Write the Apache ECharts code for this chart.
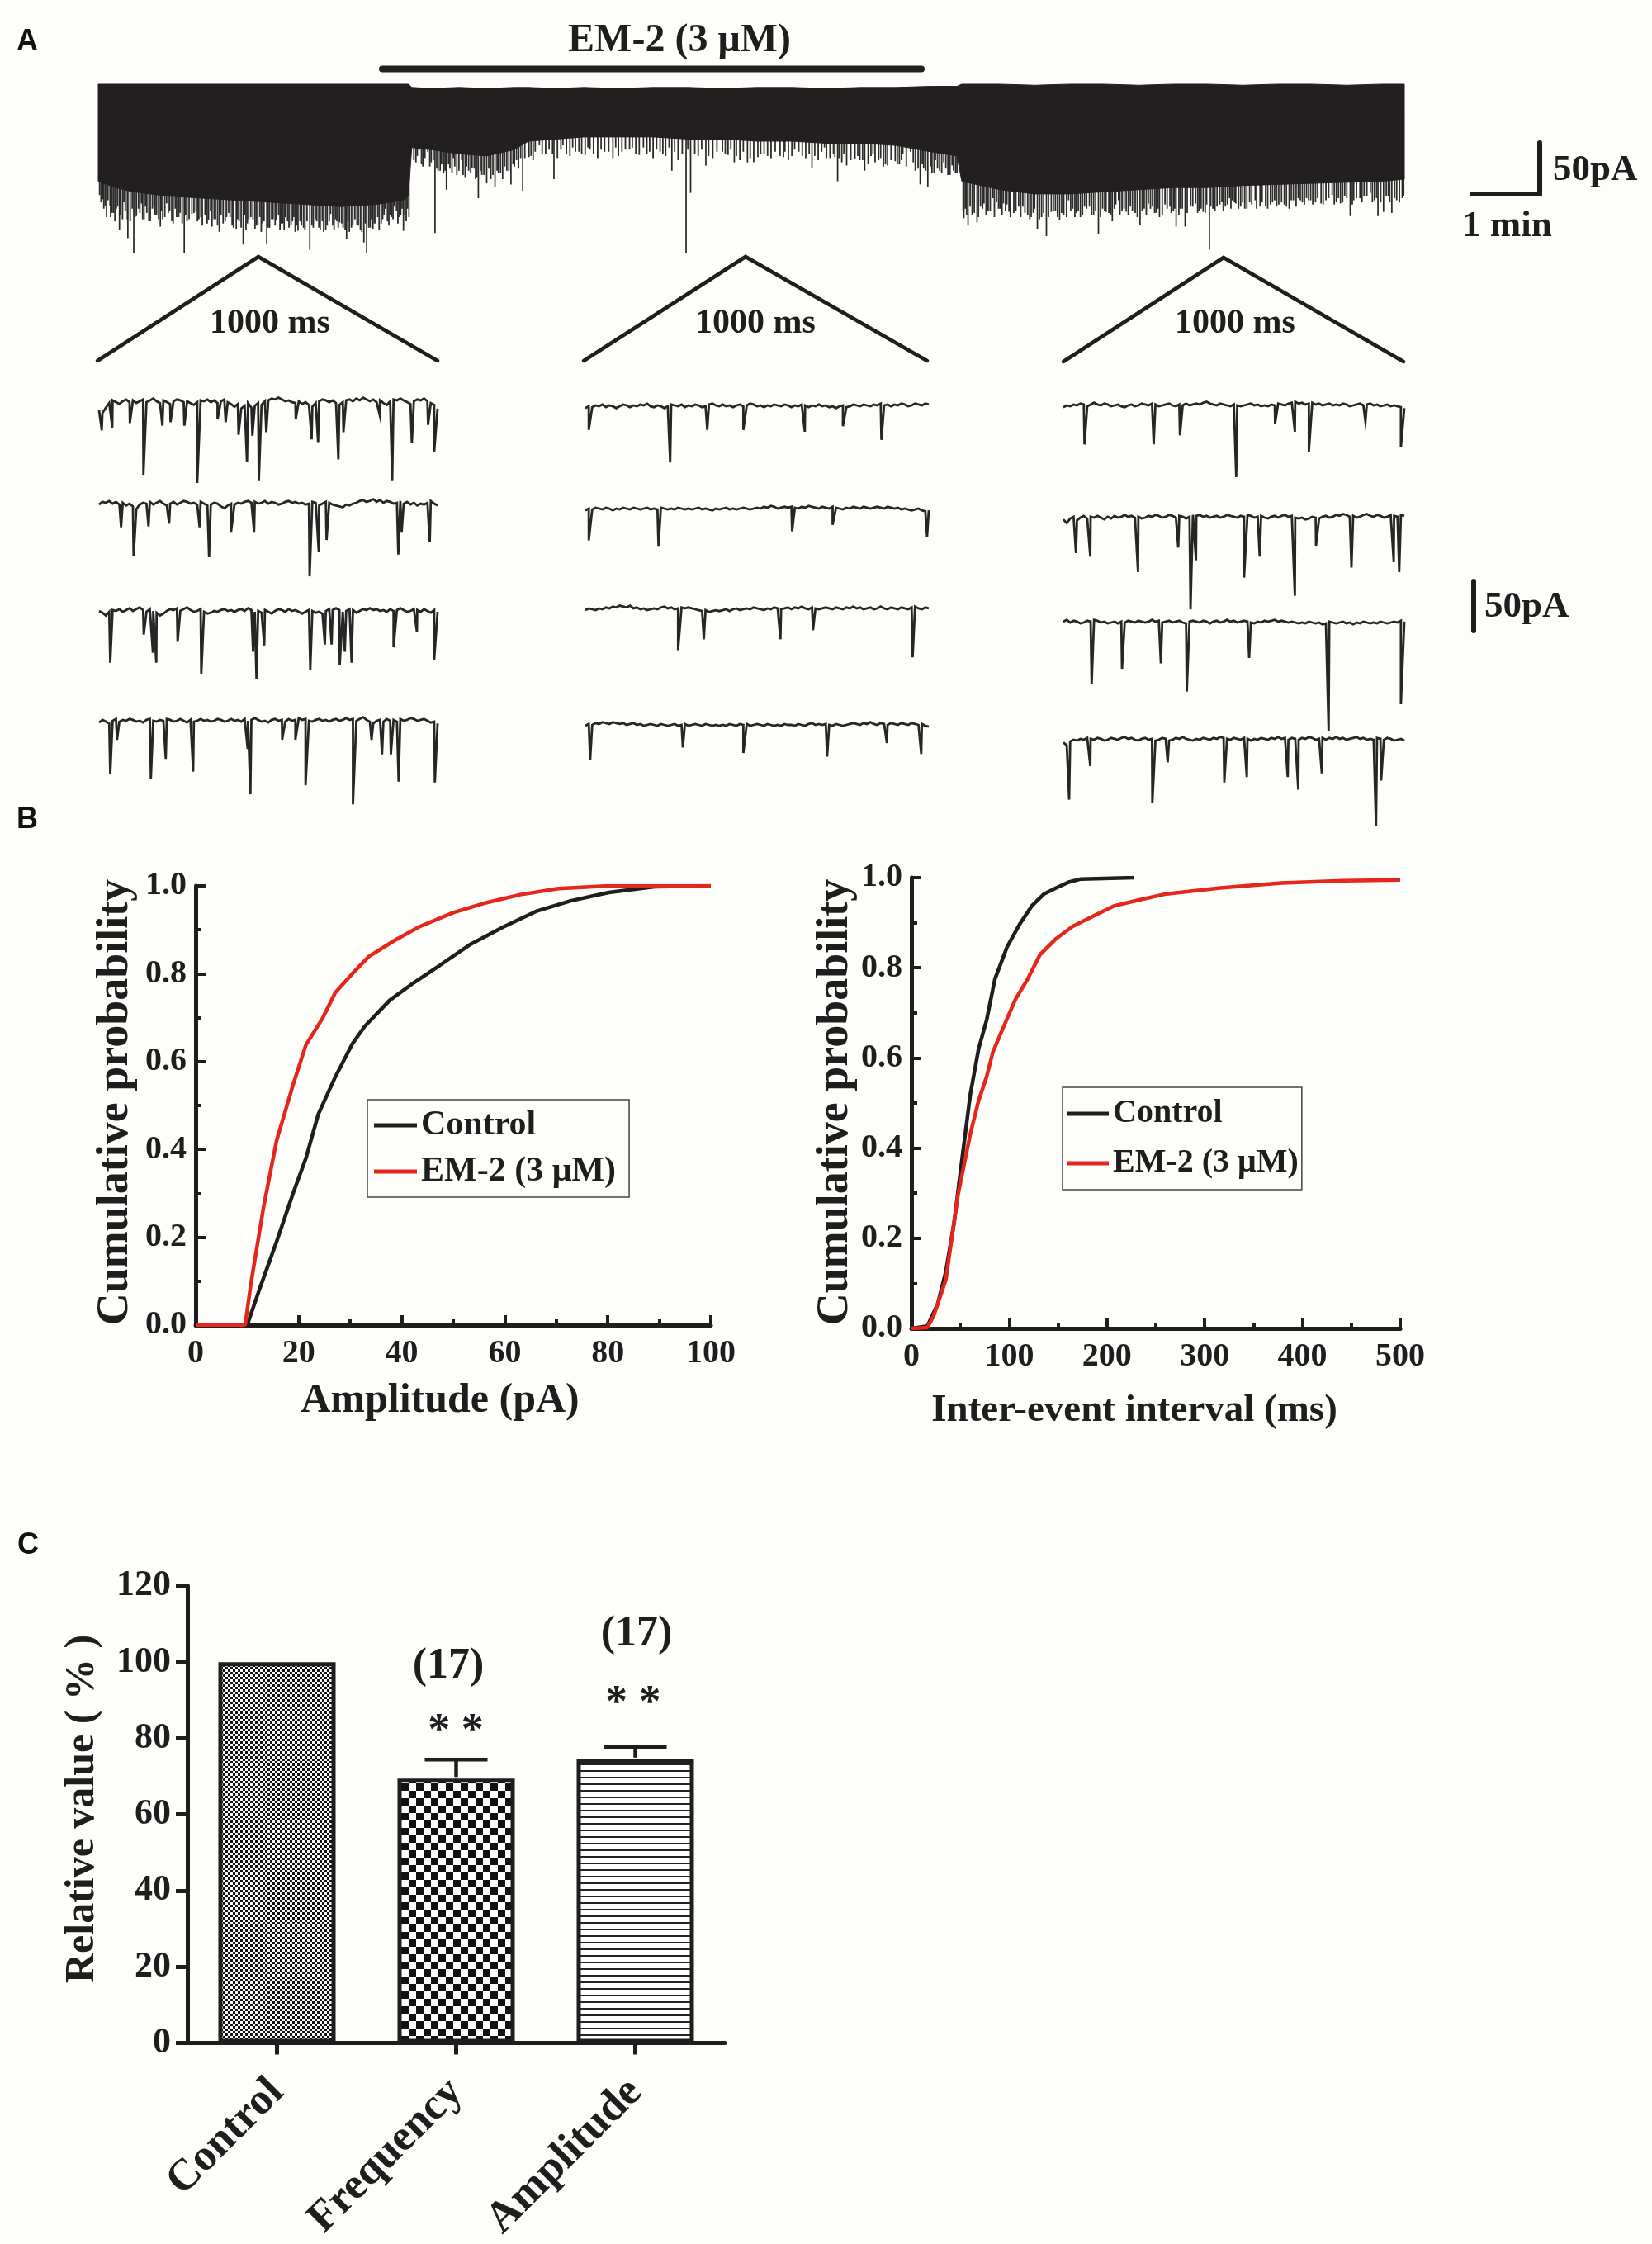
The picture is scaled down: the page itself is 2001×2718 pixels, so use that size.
<!DOCTYPE html>
<html>
<head>
<meta charset="utf-8">
<script src="https://cdn.jsdelivr.net/npm/echarts@6/dist/echarts.min.js"></script>
<style>html,body{margin:0;padding:0;background:#fdfdf9}#c{width:2001px;height:2718px}</style>
</head>
<body>
<div id="c"></div>
<script>
// ---------------- DATA ----------------
// Panel A, long recording (time in min, current in pA)
const topBandT = [0,0.25,0.5,1.0,1.5,2.0,2.5,3.0,3.5,4.0,4.4,4.47,
  4.52,4.8,5.2,5.6,6.0,6.2,6.6,7.0,7.5,8.0,8.5,9.0,9.5,10.0,10.5,11.0,11.5,12.0,12.38,
  12.45,13.0,13.5,14.0,14.5,15.0,15.5,16.0,16.5,17.0,17.5,18.0,18.5,18.83];
const topBandUpper = [0,0,0,0,0,0,0,0,0,0,0,0,
  -3,-4,-3,-4,-3,-3,-4,-3,-4,-3,-3,-4,-3,-3,-4,-3,-3,-2,-2,
  0,0,-1,0,0,-1,0,0,-1,0,0,-1,0,0];
const topBandLower = [-92,-98,-102,-106,-108,-110,-112,-114,-116,-114,-110,-106,
  -60,-62,-66,-68,-62,-54,-52,-50,-50,-50,-52,-52,-54,-54,-56,-56,-58,-64,-68,
  -92,-100,-104,-104,-102,-100,-98,-98,-96,-95,-94,-93,-92,-90];
// large events of the long recording: [time min, amplitude pA]
const topSpikes = [
 [0.063,109],[0.178,126],[0.306,138],[0.427,146],[0.512,160],[0.622,113],[0.804,116],[0.895,135],[0.986,113],[1.24,160],
 [1.35,123],[1.41,121],[1.59,129],[1.745,140],[1.90,126],[1.99,137],[2.09,152],[2.20,126],[2.26,137],[2.43,152],
 [2.57,129],[2.70,126],[2.88,139],[3.05,157],[3.20,138],[3.35,123],[3.48,131],[3.58,147],[3.73,133],[3.83,150],
 [3.87,160],[3.96,137],[4.14,118],[4.27,116],[4.40,139],[4.48,126],
 [4.63,62],[4.75,64],[4.855,141],[4.93,82],[5.02,100],[5.12,70],[5.24,72],[5.39,79],[5.48,108],[5.60,94],
 [5.72,97],[5.83,90],[5.95,95],[6.12,101],[6.21,69],[6.36,58],[6.57,90],[6.70,58],[6.97,66],[7.09,62],
 [7.42,70],[7.70,60],[7.91,66],[8.27,82],[8.475,160],[8.54,103],[8.76,77],[9.00,64],[9.17,74],[9.36,74],
 [9.51,69],[9.60,66],[9.88,69],[10.04,62],[10.29,79],[10.47,60],[10.62,69],[10.66,92],[10.79,77],[10.91,71],
 [11.05,82],[11.17,66],[11.38,77],[11.49,73],[11.60,66],[11.71,64],[11.85,95],[11.96,97],[12.07,72],[12.19,74],[12.31,77],
 [12.48,127],[12.54,134],[12.67,131],[12.77,113],[12.90,108],[13.05,113],[13.13,121],[13.27,116],[13.45,126],[13.54,137],
 [13.67,144],[13.74,121],[13.86,129],[13.99,110],[14.16,126],[14.29,116],[14.42,142],[14.53,121],[14.62,130],[14.71,110],
 [14.82,121],[15.02,133],[15.14,113],[15.30,126],[15.45,116],[15.54,135],[15.67,135],[15.82,113],[15.93,121],[16.02,157],
 [16.13,116],[16.31,108],[16.40,113],[16.56,118],[16.68,110],[16.83,116],[17.02,114],[17.17,118],[17.30,108],[17.48,110],
 [17.63,113],[17.79,105],[17.91,113],[18.05,125],[18.19,108],[18.34,103],[18.45,125],[18.53,121],[18.65,122],[18.80,108]
];
// dense small events at the lower edge of the band: [time min, amplitude pA]
const topFringe = [
 [0.02,105],[0.10,115],[0.14,110],[0.22,122],[0.26,118],[0.35,128],[0.39,120],[0.46,130],[0.55,125],[0.58,118],
 [0.66,128],[0.70,122],[0.75,130],[0.84,124],[0.93,128],[1.03,120],[1.08,132],[1.13,126],[1.18,122],[1.28,130],
 [1.45,128],[1.50,134],[1.54,124],[1.64,135],[1.69,128],[1.80,132],[1.85,126],[1.95,136],[2.03,130],[2.13,138],
 [2.17,128],[2.30,134],[2.35,140],[2.39,130],[2.47,136],[2.52,128],[2.62,138],[2.66,132],[2.75,136],[2.80,130],
 [2.84,140],[2.93,134],[2.98,138],[3.10,136],[3.15,130],[3.25,140],[3.30,134],[3.40,138],[3.44,130],[3.53,136],
 [3.62,140],[3.67,134],[3.78,138],[3.92,136],[4.00,132],[4.05,138],[4.10,128],[4.19,134],[4.23,126],[4.32,132],
 [4.36,124],[4.44,130],
 [4.58,74],[4.68,78],[4.80,74],[4.90,82],[4.98,84],[5.07,80],[5.17,86],[5.29,88],[5.34,82],[5.44,90],
 [5.53,86],[5.66,90],[5.77,84],[5.89,82],[6.00,78],[6.06,80],[6.27,72],[6.45,66],[6.62,70],[6.80,68],
 [6.88,64],[7.02,67],[7.20,70],[7.30,64],[7.50,68],[7.60,62],[7.80,67],[8.00,70],[8.10,64],[8.18,68],
 [8.36,72],[8.65,68],[8.86,70],[9.08,67],[9.25,72],[9.45,74],[9.70,70],[9.95,72],[10.15,68],[10.38,72],
 [10.55,70],[10.72,74],[10.98,72],[11.10,76],[11.25,72],[11.32,78],[11.55,76],[11.78,82],[11.90,80],[12.02,84],
 [12.13,82],[12.25,86],[12.36,84],
 [12.50,118],[12.60,124],[12.72,116],[12.83,120],[12.95,112],[13.00,118],[13.10,114],[13.20,122],[13.33,116],[13.40,124],
 [13.50,118],[13.60,126],[13.80,120],[13.92,124],[14.05,118],[14.10,122],[14.22,116],[14.35,124],[14.48,118],[14.57,122],
 [14.67,114],[14.76,120],[14.88,116],[14.95,122],[15.08,118],[15.20,116],[15.25,122],[15.38,114],[15.50,120],[15.60,118],
 [15.75,116],[15.87,120],[15.98,114],[16.07,118],[16.20,112],[16.25,116],[16.35,110],[16.47,116],[16.60,112],[16.75,116],
 [16.90,114],[16.96,110],[17.10,114],[17.23,110],[17.36,112],[17.42,108],[17.55,112],[17.70,110],[17.85,112],[17.97,106],
 [18.10,110],[18.25,106],[18.40,110],[18.60,106],[18.72,110]
];
const topFringe2 = [
 [0.04,112],[0.08,118],[0.12,126],[0.17,115],[0.20,122],[0.24,130],[0.28,116],[0.32,124],[0.37,112],[0.42,128],
 [0.49,118],[0.53,126],[0.60,122],[0.64,128],[0.68,116],[0.73,130],[0.78,118],[0.82,124],[0.87,128],[0.91,120],
 [0.96,126],[1.01,122],[1.06,130],[1.11,118],[1.16,126],[1.21,132],[1.26,124],[1.31,128],[1.38,122],[1.43,130],
 [1.48,126],[1.57,132],[1.62,120],[1.67,128],[1.72,134],[1.77,124],[1.83,130],[1.88,122],[1.93,134],[2.01,128],
 [2.06,136],[2.11,124],[2.15,132],[2.23,128],[2.28,134],[2.33,126],[2.37,132],[2.45,136],[2.50,128],[2.55,134],
 [2.60,124],[2.64,132],[2.68,138],[2.73,130],[2.78,134],[2.82,126],[2.86,134],[2.91,130],[2.96,136],[3.01,130],
 [3.08,134],[3.13,128],[3.18,136],[3.23,130],[3.28,138],[3.33,130],[3.38,134],[3.42,128],[3.46,136],[3.51,132],
 [3.56,138],[3.60,130],[3.65,136],[3.70,128],[3.75,134],[3.80,140],[3.85,132],[3.90,136],[3.94,128],[3.98,132],
 [4.03,126],[4.08,132],[4.12,124],[4.17,130],[4.21,124],[4.25,128],[4.30,120],[4.34,126],[4.38,118],[4.42,124],[4.46,118],
 [4.55,72],[4.60,68],[4.66,76],[4.71,70],[4.78,78],[4.83,72],[4.88,80],[4.95,76],[5.00,82],[5.05,76],
 [5.10,84],[5.14,78],[5.20,82],[5.26,86],[5.31,78],[5.37,84],[5.42,80],[5.46,88],[5.51,82],[5.56,86],
 [5.63,80],[5.69,86],[5.75,82],[5.80,84],[5.86,78],[5.92,82],[5.98,76],[6.03,72],[6.09,70],[6.15,70],
 [6.24,68],[6.30,64],[6.40,66],[6.50,62],[6.55,66],[6.67,62],[6.75,66],[6.84,60],[6.93,64],[7.06,60],
 [7.14,66],[7.25,62],[7.36,64],[7.46,60],[7.55,64],[7.66,62],[7.75,66],[7.86,60],[7.95,64],[8.05,62],
 [8.14,66],[8.23,60],[8.31,64],[8.42,66],[8.50,62],[8.60,66],[8.70,62],[8.80,68],[8.92,64],[9.04,66],
 [9.12,62],[9.20,68],[9.30,64],[9.40,70],[9.55,66],[9.65,68],[9.76,64],[9.83,68],[9.90,64],[10.00,68],
 [10.10,64],[10.20,70],[10.25,66],[10.33,68],[10.43,64],[10.50,70],[10.60,66],[10.68,70],[10.75,66],[10.85,72],
 [10.95,68],[11.02,72],[11.14,68],[11.20,74],[11.28,70],[11.35,76],[11.43,72],[11.52,76],[11.58,72],[11.65,78],
 [11.75,74],[11.82,80],[11.88,76],[11.93,82],[12.00,78],[12.05,84],[12.10,80],[12.16,84],[12.22,80],[12.28,86],
 [12.33,82],[12.38,84],
 [12.47,120],[12.52,124],[12.57,116],[12.63,122],[12.69,126],[12.75,118],[12.80,124],[12.86,120],[12.92,126],[12.98,118],
 [13.03,124],[13.08,120],[13.15,126],[13.23,120],[13.30,126],[13.36,122],[13.43,128],[13.48,122],[13.57,128],[13.63,122],
 [13.70,126],[13.77,120],[13.83,126],[13.89,122],[13.96,126],[14.02,120],[14.08,126],[14.13,120],[14.19,124],[14.25,118],
 [14.32,124],[14.38,120],[14.45,126],[14.51,120],[14.60,124],[14.65,118],[14.73,124],[14.79,118],[14.85,124],[14.91,120],
 [14.98,126],[15.05,120],[15.11,124],[15.17,118],[15.23,122],[15.28,118],[15.34,124],[15.41,118],[15.47,122],[15.52,118],
 [15.58,124],[15.63,118],[15.70,122],[15.78,116],[15.85,122],[15.90,118],[15.96,122],[16.04,116],[16.10,120],[16.17,114],
 [16.22,120],[16.28,114],[16.33,118],[16.38,112],[16.44,118],[16.50,112],[16.53,118],[16.63,114],[16.70,118],[16.78,112],
 [16.86,118],[16.93,112],[16.99,116],[17.06,112],[17.13,116],[17.20,110],[17.27,116],[17.33,110],[17.39,114],[17.45,110],
 [17.51,114],[17.58,108],[17.66,114],[17.74,108],[17.82,114],[17.88,108],[17.94,112],[18.00,108],[18.08,114],[18.14,108],
 [18.22,112],[18.29,106],[18.37,112],[18.43,108],[18.49,112],[18.57,106],[18.62,112],[18.69,108],[18.76,112],[18.82,106]
];

// Panel A, 1000 ms sweeps: baseline noise sampled every 10 ms (pA) and events [time ms, amplitude pA]
const ctrlNoise1 = [-6,-9,-3,2,5,3,1,4,6,3, 5,2,4,6,3,5,7,4,2,5, 3,1,4,6,5,3,4,2,0,3, 5,4,6,3,5,2,4,6,3,1,
  -2,1,-4,-1,2,-3,-1,2,0,4, 5,7,6,8,6,4,5,3,2,4, 1,3,0,-2,2,4,6,5,3,5, 2,0,3,5,6,4,7,5,8,6,
  4,6,3,5,2,0,4,6,5,7, 5,3,1,4,6,5,7,4,2,0, -4];
const ctrlEvents1 = [[8,28],[39,25],[91,20],[131,77],[187,23],[211,19],[252,23],[290,86],[350,16],[374,19],[412,33],[437,63],
  [453,34],[472,83],[494,30],[581,16],[628,38],[647,41],[707,60],[722,30],[829,11],[866,83],[924,42],[972,22],[990,52]];
const ctrlNoise2 = [2,5,4,6,3,5,2,4,1,3, 0,-3,2,4,3,5,2,4,6,3, 1,3,5,2,4,6,5,3,4,2, 5,3,1,2,4,3,0,-2,1,3,
  2,4,3,5,6,4,5,3,4,6, 3,5,4,2,3,5,6,4,5,3, 4,2,3,5,4,1,3,5,4,2, 1,0,-1,2,1,3,4,6,7,5,
  6,8,5,7,4,6,5,3,4,6, 3,5,2,4,1,3,2,4,6,3, 1];
const ctrlEvents2 = [[65,23],[102,55],[146,22],[207,19],[297,23],[325,56],[390,28],[458,28],[622,77],[649,50],[672,37],
  [884,53],[894,28],[977,39]];
const ctrlNoise3 = [4,2,-1,3,5,4,6,3,5,7, 4,6,8,5,3,6,4,2,-1,1, 4,6,5,7,4,6,8,5,3,4, 6,3,1,2,4,3,5,6,4,5,
  3,5,6,4,7,5,3,4,2,5, 3,1,4,6,5,3,6,4,5,3, 1,3,5,4,2,3,1,4,6,5, 7,5,3,4,6,5,2,4,6,5,
  7,5,6,4,5,3,6,4,5,7, 5,3,4,6,5,3,6,4,2,5, 3];
const ctrlEvents3 = [[33,53],[132,22],[159,42],[169,53],[232,30],[302,65],[455,41],[465,71],[488,34],[624,61],[667,33],
  [687,33],[711,55],[726,41],[746,53],[870,36],[939,19],[990,50]];
const ctrlNoise4 = [2,5,3,1,4,6,3,5,4,6, 5,3,4,2,5,6,4,3,5,4, 6,5,3,4,6,4,2,5,3,4, 6,4,5,3,4,6,5,3,4,6,
  4,5,3,6,4,5,7,5,3,4, 2,5,6,4,5,3,6,4,5,7, 5,6,4,3,5,6,4,5,3,5, 6,4,5,7,5,6,4,6,8,5,
  3,1,4,5,3,6,4,5,3,6, 4,5,7,6,4,5,6,4,2,3, 1];
const ctrlEvents4 = [[33,55],[53,17],[153,60],[197,38],[278,52],[439,27],[447,77],[541,17],[580,17],[610,67],[750,88],
  [805,17],[836,33],[862,33],[885,63],[992,64]];

const em2Noise1 = [1,3,2,4,3,5,2,4,3,1, 3,5,4,2,4,3,5,4,6,3, 2,4,3,1,3,5,4,3,5,2, 4,3,5,4,2,3,5,6,4,3,
  5,3,4,2,4,5,3,4,6,5, 3,4,2,4,3,5,4,3,5,4, 2,4,3,5,4,2,4,3,5,3, 4,2,3,1,3,4,2,3,5,4,
  3,5,4,3,5,4,6,4,5,3, 5,4,6,5,3,4,6,5,4,6, 5];
const em2Events1 = [[10,23],[247,59],[355,23],[460,23],[639,25],[750,19],[862,34]];
const em2Noise2 = [2,4,3,5,4,3,5,4,2,4, 3,5,4,3,5,4,3,4,5,3, 4,3,5,4,3,4,3,5,4,3, 4,3,4,5,3,4,3,2,4,3,
  4,5,3,4,3,4,5,4,3,4, 5,4,6,5,7,6,4,5,6,5, 6,5,4,6,5,7,6,5,4,6, 5,4,6,5,4,3,5,4,6,5,
  4,6,5,4,5,6,5,4,6,5, 4,5,3,4,3,2,3,4,2,1, 2];
const em2Events2 = [[10,31],[213,37],[602,21],[720,14],[995,27]];
const em2Noise3 = [3,5,4,3,5,4,6,5,7,6, 8,7,6,8,5,6,4,5,3,4, 5,4,6,7,5,6,4,5,6,5, 6,5,4,3,2,3,1,2,3,2,
  3,4,2,4,5,3,4,5,4,6, 5,4,3,5,4,6,5,4,5,6, 4,6,5,7,5,4,6,5,4,5, 6,5,4,6,5,4,6,5,7,5,
  6,4,5,6,4,5,7,5,4,6, 5,4,6,5,4,6,7,5,4,6, 5];
const em2Events3 = [[270,41],[345,29],[568,29],[663,19],[953,49]];
const em2Noise4 = [3,5,4,6,5,7,6,5,7,6, 5,6,4,5,6,4,5,3,4,5, 4,3,5,4,3,4,5,3,4,5, 3,4,5,4,3,5,4,3,4,3,
  4,3,5,4,3,5,4,5,3,4, 5,4,3,5,4,3,4,3,5,4, 4,3,5,4,3,5,6,4,5,4, 5,4,3,5,4,3,4,5,6,5,
  4,6,5,7,5,4,6,5,4,6, 5,4,6,5,4,6,5,4,5,3, 2];
const em2Events4 = [[14,35],[284,21],[460,27],[704,31],[878,16],[978,28]];

const washNoise1 = [2,4,3,5,4,6,5,3,5,7, 5,4,6,5,3,4,5,3,2,4, 5,3,4,6,5,4,6,5,3,4, 5,6,4,3,5,4,6,4,5,6,
  5,7,8,6,5,4,6,5,4,3, 5,4,3,4,5,6,4,5,3,4, 3,5,4,6,5,4,6,7,8,6, 7,5,6,7,5,6,4,5,6,4,
  5,4,6,5,3,4,5,6,4,5, 6,4,5,3,4,5,3,4,3,2, 1];
const washEvents1 = [[62,39],[265,39],[342,29],[507,75],[621,16],[679,25],[720,47],[886,14],[990,42]];
const washNoise2 = [2,-2,3,5,1,4,6,3,5,4, 6,4,2,5,3,6,4,5,7,5, 6,4,5,3,4,6,5,7,6,4, 5,7,6,4,6,5,3,5,7,6,
  7,5,6,4,5,6,4,5,7,6, 5,4,6,5,7,6,4,5,6,4, 3,5,6,4,6,7,5,6,4,3, 4,2,3,5,4,3,5,6,4,5,
  7,6,8,7,5,6,4,5,7,8, 6,5,7,6,4,5,7,6,5,7, 6];
const washEvents2 = [[37,35],[79,39],[219,56],[337,29],[373,97],[389,43],[530,62],[576,39],[679,82],[741,27],[845,51],
  [969,45],[985,56]];
const washNoise3 = [5,7,4,6,5,3,4,6,5,7, 6,4,5,3,4,5,3,5,4,6, 5,4,6,5,4,5,7,5,6,4, 5,6,4,5,6,4,3,5,6,5,
  4,6,5,3,5,6,4,5,7,5, 6,4,5,6,5,4,3,5,4,6, 5,6,7,5,6,5,4,5,4,3, 4,3,5,4,3,4,2,3,5,4,
  3,4,5,3,4,2,4,3,5,4, 3,4,3,5,4,3,4,5,4,6, 5];
const washEvents3 = [[83,64],[172,47],[286,41],[362,72],[545,35],[778,115],[990,86]];
const washNoise4 = [1,-2,2,4,3,5,4,6,5,4, 6,5,3,4,6,5,4,6,7,5, 6,4,3,5,6,4,5,3,4,6, 5,3,4,6,5,7,5,4,3,5,
  4,6,5,4,6,5,7,6,5,4, 6,5,4,6,5,3,5,4,6,5, 4,6,5,7,5,6,4,6,5,4, 6,5,7,6,4,5,6,4,6,5,
  7,5,6,4,5,6,7,5,6,4, 5,4,6,5,4,6,5,3,4,5, 3];
const washEvents4 = [[17,62],[79,25],[261,66],[306,21],[472,43],[538,37],[658,37],[689,51],[758,33],[917,91],[932,41]];

// Panel B, cumulative distributions
const ampCtrlX = [0,10,12.4,15.7,18.9,21.4,23.8,27.1,30.4,32.8,37.7,41.8,47.5,53.2,59.8,66.3,72.8,80.2,89.1,100];
const ampCtrlY = [0,0,0.082,0.19,0.30,0.38,0.48,0.565,0.64,0.68,0.74,0.775,0.82,0.866,0.907,0.943,0.966,0.985,0.998,1.0];
const ampEmX = [0,9.6,10.8,13.2,15.7,18.9,21.4,24.7,27.1,30.4,33.6,38.5,43.4,50,56.5,63,70.4,80.2,100];
const ampEmY = [0,0,0.10,0.27,0.42,0.547,0.638,0.70,0.757,0.80,0.839,0.875,0.907,0.939,0.962,0.98,0.994,1.0,1.0];
const ieiCtrlX = [0,16.3,26.8,35.2,43.6,51.9,60.3,68.7,77,85.4,98,110.5,123,135.7,148,160.8,173.4,227.8];
const ieiCtrlY = [0,0.005,0.054,0.126,0.234,0.378,0.52,0.62,0.685,0.775,0.847,0.896,0.937,0.964,0.977,0.99,0.997,1.0];
const ieiEmX = [0,16.3,22.6,35.2,47.7,60.3,68.7,77,83.3,93.8,106.4,118.9,131.5,148.2,165,190,206.9,232,261,315.7,378.6,441.4,500];
const ieiEmY = [0,0.002,0.027,0.108,0.297,0.432,0.505,0.559,0.613,0.667,0.73,0.775,0.829,0.865,0.892,0.919,0.937,0.95,0.964,0.977,0.988,0.993,0.995];
const seriesNames = ['Control', 'EM-2 (3 μM)'];

// Panel C
const relCategories = ['Control', 'Frequency', 'Amplitude'];
const relValues = [100, 69.4, 74.5];
const relErr = [0, 5.0, 3.2];
const relYTicks = [0, 20, 40, 60, 80, 100, 120];

// ---------------- STYLE / LAYOUT ----------------
const SERIF = '"Liberation Serif", "Times New Roman", serif';
const SANS = '"Liberation Sans", Arial, sans-serif';
const INK = '#1f1d1e';
const RED = '#e4261c';
const BG = '#fdfdf9';

function pattern(kind) {
  const c = document.createElement('canvas');
  const g = c.getContext('2d');
  if (kind === 'fine') {
    c.width = 6; c.height = 6;
    g.fillStyle = '#ffffff'; g.fillRect(0, 0, 6, 6);
    g.fillStyle = '#111'; g.fillRect(0, 0, 3, 3); g.fillRect(3, 3, 3, 3);
  } else if (kind === 'check') {
    c.width = 18; c.height = 18;
    g.fillStyle = '#ffffff'; g.fillRect(0, 0, 18, 18);
    g.fillStyle = '#111'; g.fillRect(0, 0, 9, 9); g.fillRect(9, 9, 9, 9);
  } else {
    c.width = 8; c.height = 8;
    g.fillStyle = '#ffffff'; g.fillRect(0, 0, 8, 8);
    g.fillStyle = '#222'; g.fillRect(0, 0, 8, 2);
  }
  return { image: c, repeat: 'repeat' };
}

const grids = [], xAxes = [], yAxes = [], series = [];
function addGrid(g, xa, ya) {
  grids.push(g);
  const gi = grids.length - 1;
  xa.gridIndex = gi; ya.gridIndex = gi;
  xAxes.push(xa); yAxes.push(ya);
  return gi;
}

// --- top recording ---
const gTop = addGrid({ left: 119, top: 102, width: 1582, height: 207 },
  { type: 'value', min: 0, max: 18.83, show: false },
  { type: 'value', min: -162, max: 0, show: false });
function spikeSeries(list, color, width) {
  return {
    type: 'custom', xAxisIndex: gTop, yAxisIndex: gTop, silent: true, z: 2,
    data: list,
    renderItem: function (params, api) {
      const t = api.value(0);
      const p1 = api.coord([t, -30]);
      const p2 = api.coord([t, -api.value(1)]);
      return { type: 'line', shape: { x1: p1[0], y1: p1[1], x2: p2[0], y2: p2[1] }, style: { stroke: color, lineWidth: width } };
    }
  };
}
series.push(spikeSeries(topFringe2, '#2e2e2e', 1.8));
series.push(spikeSeries(topFringe, '#2a2a2a', 1.8));
series.push(spikeSeries(topSpikes, '#262626', 1.7));
series.push({
  type: 'custom', xAxisIndex: gTop, yAxisIndex: gTop, silent: true, z: 3,
  data: [[0, 0]],
  renderItem: function (params, api) {
    const pts = [];
    for (let i = 0; i < topBandT.length; i++) pts.push(api.coord([topBandT[i], topBandUpper[i]]));
    for (let i = topBandT.length - 1; i >= 0; i--) pts.push(api.coord([topBandT[i], topBandLower[i]]));
    return { type: 'polygon', shape: { points: pts }, style: { fill: '#231f20', stroke: '#231f20', lineWidth: 1 } };
  }
});

// --- 1000 ms sweeps ---
const sweepCols = [
  { left: 120, width: 410, bases: [486, 609, 740, 873], noise: [ctrlNoise1, ctrlNoise2, ctrlNoise3, ctrlNoise4], events: [ctrlEvents1, ctrlEvents2, ctrlEvents3, ctrlEvents4] },
  { left: 709, width: 416, bases: [491, 616, 738, 878], noise: [em2Noise1, em2Noise2, em2Noise3, em2Noise4], events: [em2Events1, em2Events2, em2Events3, em2Events4] },
  { left: 1288, width: 413, bases: [491, 627, 754, 896], noise: [washNoise1, washNoise2, washNoise3, washNoise4], events: [washEvents1, washEvents2, washEvents3, washEvents4] }
];
const PXPA = 1.1;
sweepCols.forEach(col => {
  col.bases.forEach((base, r) => {
    const gi = addGrid({ left: col.left, top: base - 12 * PXPA, width: col.width, height: 140 * PXPA },
      { type: 'value', min: 0, max: 1000, show: false },
      { type: 'value', min: -124, max: 16, show: false });
    const pts = col.noise[r].map((v, i) => [i * 10, v]);
    col.events[r].forEach(e => pts.push([e[0], -e[1]]));
    pts.sort((a, b) => a[0] - b[0]);
    series.push({
      type: 'line', xAxisIndex: gi, yAxisIndex: gi, data: pts, showSymbol: false, silent: true,
      lineStyle: { color: '#262626', width: 2.8, join: 'miter' }
    });
  });
});

// --- Panel B ---
function cdfAxes(xmax, xint) {
  const lab = { fontFamily: SERIF, fontWeight: 'bold', fontSize: 40, color: INK };
  const line = { show: true, lineStyle: { color: INK, width: 5 } };
  return [
    { type: 'value', min: 0, max: xmax, interval: xint, axisLine: line,
      axisTick: { show: true, inside: true, length: 12, lineStyle: { color: INK, width: 4 } },
      minorTick: { show: true, splitNumber: 2, length: 7, lineStyle: { color: INK, width: 4 } },
      splitLine: { show: false }, minorSplitLine: { show: false },
      axisLabel: Object.assign({ margin: 15 }, lab) },
    { type: 'value', min: 0, max: 1, interval: 0.2, axisLine: line,
      axisTick: { show: true, inside: true, length: 12, lineStyle: { color: INK, width: 4 } },
      minorTick: { show: true, splitNumber: 2, length: 7, lineStyle: { color: INK, width: 4 } },
      splitLine: { show: false }, minorSplitLine: { show: false },
      axisLabel: Object.assign({ margin: 11, formatter: v => v.toFixed(1) }, lab) }
  ];
}
let ax = cdfAxes(100, 20);
const gB1 = addGrid({ left: 237, top: 1073, width: 624, height: 532 }, ax[0], ax[1]);
ax = cdfAxes(500, 100);
const gB2 = addGrid({ left: 1104, top: 1063, width: 592, height: 546 }, ax[0], ax[1]);
function cdfSeries(gi, name, xs, ys, color) {
  return { type: 'line', name: name, xAxisIndex: gi, yAxisIndex: gi, data: xs.map((x, i) => [x, ys[i]]),
    showSymbol: false, symbol: 'none', color: color, lineStyle: { color: color, width: 4.5 }, silent: true };
}
series.push(cdfSeries(gB1, seriesNames[0], ampCtrlX, ampCtrlY, INK));
series.push(cdfSeries(gB1, seriesNames[1], ampEmX, ampEmY, RED));
series.push(cdfSeries(gB2, seriesNames[0], ieiCtrlX, ieiCtrlY, INK));
series.push(cdfSeries(gB2, seriesNames[1], ieiEmX, ieiEmY, RED));

// --- Panel C ---
const gC = addGrid({ left: 227, top: 1921, width: 651, height: 554 },
  { type: 'category', data: relCategories, boundaryGap: true,
    axisLine: { show: true, lineStyle: { color: INK, width: 5 } },
    axisTick: { show: true, alignWithLabel: true, length: 14, lineStyle: { color: INK, width: 5 } },
    axisLabel: { rotate: 45, margin: 52, fontFamily: SERIF, fontWeight: 'bold', fontSize: 53, color: INK } },
  { type: 'value', min: relYTicks[0], max: relYTicks[relYTicks.length - 1], interval: 20,
    axisLine: { show: true, lineStyle: { color: INK, width: 5 } },
    axisTick: { show: true, length: 14, lineStyle: { color: INK, width: 5 } },
    splitLine: { show: false },
    axisLabel: { margin: 20, fontFamily: SERIF, fontWeight: 'bold', fontSize: 44, color: INK } });
const pats = [pattern('fine'), pattern('check'), pattern('lines')];
series.push({
  type: 'bar', xAxisIndex: gC, yAxisIndex: gC, barWidth: 142, silent: true,
  data: relValues.map((v, i) => ({ value: v, itemStyle: { color: pats[i] } })),
  itemStyle: { borderColor: INK, borderWidth: 5 }
});
series.push({
  type: 'custom', xAxisIndex: gC, yAxisIndex: gC, silent: true, z: 5,
  data: relValues.map((v, i) => [i, v, v + relErr[i]]),
  renderItem: function (params, api) {
    if (api.value(2) <= api.value(1)) return null;
    const lo = api.coord([api.value(0), api.value(1)]);
    const hi = api.coord([api.value(0), api.value(2)]);
    const st = { stroke: INK, lineWidth: 4.5 };
    return { type: 'group', children: [
      { type: 'line', shape: { x1: lo[0], y1: lo[1] - 2, x2: hi[0], y2: hi[1] }, style: st },
      { type: 'line', shape: { x1: hi[0] - 38, y1: hi[1], x2: hi[0] + 38, y2: hi[1] }, style: st }
    ] };
  }
});

// ---------------- GRAPHIC ----------------
function txt(x, y, text, size, opts) {
  opts = opts || {};
  return { type: 'text', x: x, y: y, rotation: opts.rotation || 0, silent: true,
    style: { text: text, fill: opts.color || INK, font: 'bold ' + size + 'px ' + (opts.family || SERIF),
      textAlign: opts.align || 'center', textVerticalAlign: 'middle', align: opts.align || 'center', verticalAlign: 'middle' } };
}
function pl(points, w) {
  return { type: 'polyline', silent: true, shape: { points: points }, style: { stroke: INK, lineWidth: w, fill: null, lineCap: 'round', lineJoin: 'miter' } };
}
const graphics = [
  txt(33, 51, 'A', 36, { family: SANS, color: '#111' }),
  txt(33, 993, 'B', 36, { family: SANS, color: '#111' }),
  txt(34, 1872, 'C', 36, { family: SANS, color: '#111' }),
  txt(823, 50, 'EM-2 (3 μM)', 48),
  { type: 'rect', silent: true, shape: { x: 459, y: 79.5, width: 661, height: 8, r: 4 }, style: { fill: '#231f20' } },
  pl([[1783, 235], [1865, 235], [1865, 173]], 6),
  txt(1881, 206, '50pA', 45, { align: 'left' }),
  txt(1771, 274, '1 min', 45, { align: 'left' }),
  pl([[118, 437], [313, 311], [530, 437]], 4.5),
  pl([[707, 437], [903, 311], [1123, 437]], 4.5),
  pl([[1288, 438], [1482, 312], [1700, 438]], 4.5),
  txt(327, 392, '1000 ms', 42),
  txt(915, 392, '1000 ms', 42),
  txt(1496, 392, '1000 ms', 42),
  pl([[1785, 704], [1785, 764]], 6),
  txt(1798, 735, '50pA', 45, { align: 'left' }),
  txt(140, 1335, 'Cumulative probability', 54, { rotation: Math.PI / 2 }),
  txt(1012, 1335, 'Cumulative probability', 54, { rotation: Math.PI / 2 }),
  txt(533, 1697, 'Amplitude (pA)', 50),
  txt(1374, 1709, 'Inter-event interval (ms)', 47),
  txt(100, 2191, 'Relative value ( % )', 50, { rotation: Math.PI / 2 }),
  txt(543, 2019, '(17)', 52),
  txt(771, 1980, '(17)', 52),
  txt(552, 2098, '* *', 54),
  txt(767, 2064, '* *', 54)
];

// ---------------- CHART ----------------
const chart = echarts.init(document.getElementById('c'), null, { renderer: 'canvas', width: 2001, height: 2718 });
const legendText = { fontFamily: SERIF, fontWeight: 'bold', color: INK };
chart.setOption({
  backgroundColor: BG,
  animation: false,
  grid: grids,
  xAxis: xAxes,
  yAxis: yAxes,
  legend: [
    { data: seriesNames, orient: 'vertical', left: 445, top: 1332, padding: [10, 16, 10, 8], itemGap: 14,
      itemWidth: 52, itemHeight: 5, icon: 'rect', borderColor: '#444', borderWidth: 1.5, backgroundColor: BG,
      selectedMode: false, textStyle: Object.assign({ fontSize: 42 }, legendText) },
    { data: seriesNames, orient: 'vertical', left: 1287, top: 1317, padding: [12, 4, 12, 6], itemGap: 20,
      itemWidth: 50, itemHeight: 5, icon: 'rect', borderColor: '#444', borderWidth: 1.5, backgroundColor: BG,
      selectedMode: false, textStyle: Object.assign({ fontSize: 40 }, legendText) }
  ],
  series: series,
  graphic: { elements: graphics }
});
</script>
</body>
</html>
